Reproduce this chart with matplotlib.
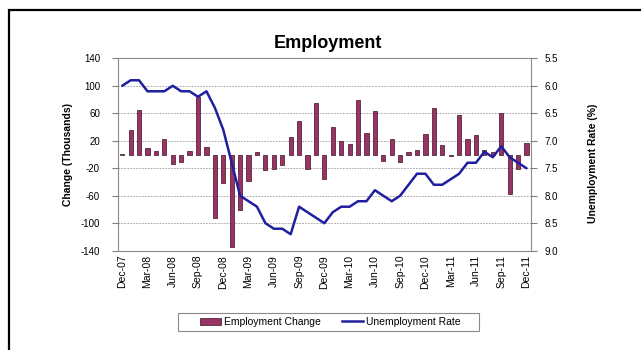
import matplotlib

matplotlib.use("Agg")
import matplotlib.pyplot as plt
import numpy as np
from matplotlib.lines import Line2D
from matplotlib.patches import Patch, Rectangle

plt.rcParams["font.family"] = ["Liberation Sans", "DejaVu Sans"]

# Monthly series, Dec-07 .. Dec-11
CHANGE = [1, 36, 65, 10, 5, 22, -14, -11, 5, 84, 11, -92, -42, -135, -81, -38,
          3, -22, -21, -15, 25, 49, -21, 75, -35, 40, 20, 15, 79, 31, 63, -9,
          23, -11, 3, 6, 30, 68, 14, -2, 58, 22, 28, 6, 3, 61, -57, -21, 17]
RATE = [6.0, 5.9, 5.9, 6.1, 6.1, 6.1, 6.0, 6.1, 6.1, 6.2, 6.1, 6.4, 6.8, 7.4,
        8.0, 8.1, 8.2, 8.5, 8.6, 8.6, 8.7, 8.2, 8.3, 8.4, 8.5, 8.3, 8.2, 8.2,
        8.1, 8.1, 7.9, 8.0, 8.1, 8.0, 7.8, 7.6, 7.6, 7.8, 7.8, 7.7, 7.6, 7.4,
        7.4, 7.2, 7.3, 7.1, 7.3, 7.4, 7.5]
QUARTER_LABELS = ["Dec-07", "Mar-08", "Jun-08", "Sep-08", "Dec-08", "Mar-09",
                  "Jun-09", "Sep-09", "Dec-09", "Mar-10", "Jun-10", "Sep-10",
                  "Dec-10", "Mar-11", "Jun-11", "Sep-11", "Dec-11"]
LEFT_TICKS = [140, 100, 60, 20, -20, -60, -100, -140]
RIGHT_TICKS = [5.5, 6.0, 6.5, 7.0, 7.5, 8.0, 8.5, 9.0]

BAR_COLOR = "#993366"
LINE_COLOR = "#1f1fa0"
W, H = 641, 350

fig = plt.figure(figsize=(W / 100, H / 100), dpi=100, facecolor="white")
ax = fig.add_axes([118 / W, 1 - 250.7 / H, (530.7 - 118) / W, (250.7 - 58.3) / H])

x = np.arange(len(CHANGE))
ax.bar(x, CHANGE, width=0.5, color=BAR_COLOR, edgecolor="#3a1020", linewidth=0.5, zorder=2)
ax.set_xlim(-0.5, len(CHANGE) - 0.5)
ax.set_ylim(-140, 140)
ax.set_yticks(LEFT_TICKS)
ax.set_yticklabels([str(v) for v in LEFT_TICKS])
ax.set_xticks(x[::3], QUARTER_LABELS, rotation=90, fontsize=7.5)
ax.tick_params(axis="x", length=0, pad=3)
ax.tick_params(axis="y", length=4, width=0.8, color="#808080", labelsize=7, pad=9)
ax.yaxis.grid(True, color="#9a9a9a", linestyle=(0, (2, 1.5)), linewidth=0.6, zorder=0)
ax.set_axisbelow(True)
for side in ("left", "bottom", "top"):
    ax.spines[side].set_color("#8a8a8a")
    ax.spines[side].set_linewidth(0.8)
ax.spines["right"].set_visible(False)

ax2 = ax.twinx()
ax2.plot(x, RATE, color=LINE_COLOR, linewidth=1.8, solid_joinstyle="round",
         solid_capstyle="round", zorder=3)
ax2.set_ylim(9.0, 5.5)
ax2.set_yticks(RIGHT_TICKS)
ax2.set_yticklabels([f"{v:.1f}" for v in RIGHT_TICKS])
ax2.tick_params(axis="y", length=4, width=0.8, color="#808080", labelsize=7, pad=6)
for side in ("left", "bottom", "top"):
    ax2.spines[side].set_visible(False)
ax2.spines["right"].set_color("#8a8a8a")
ax2.spines["right"].set_linewidth(0.8)

fig.text(68 / W, 1 - 155 / H, "Change (Thousands)", rotation=90, ha="center",
         va="center", fontsize=7.5, fontweight="bold")
fig.text(593 / W, 1 - 163 / H, "Unemployment Rate (%)", rotation=90, ha="center",
         va="center", fontsize=7.5, fontweight="bold")
fig.text(328 / W, 1 - 43 / H, "Employment", ha="center", va="center",
         fontsize=13, fontweight="bold")

handles = [Patch(facecolor=BAR_COLOR, edgecolor="#3a1020", linewidth=0.5),
           Line2D([0], [0], color=LINE_COLOR, linewidth=1.8)]
fig.legend(handles, ["Employment Change", "Unemployment Rate"],
           loc="center", bbox_to_anchor=(330.5 / W, 1 - 322 / H), ncol=2,
           fontsize=7.5, frameon=False, handlelength=2.0, handletextpad=0.3,
           columnspacing=2.0)
# legend box, wider than its entries
fig.patches.append(Rectangle((178 / W, 1 - 331 / H), 301 / W, 18 / H,
                             transform=fig.transFigure, fill=False,
                             edgecolor="#8a8a8a", linewidth=0.8))

# outer chart border (open to the right and bottom)
fig.patches.append(Rectangle((9 / W, -0.1), 1.2, 1.1 - 10 / H, transform=fig.transFigure,
                             fill=False, edgecolor="black", linewidth=1.6))

fig.savefig("out.png", dpi=100, facecolor="white")
